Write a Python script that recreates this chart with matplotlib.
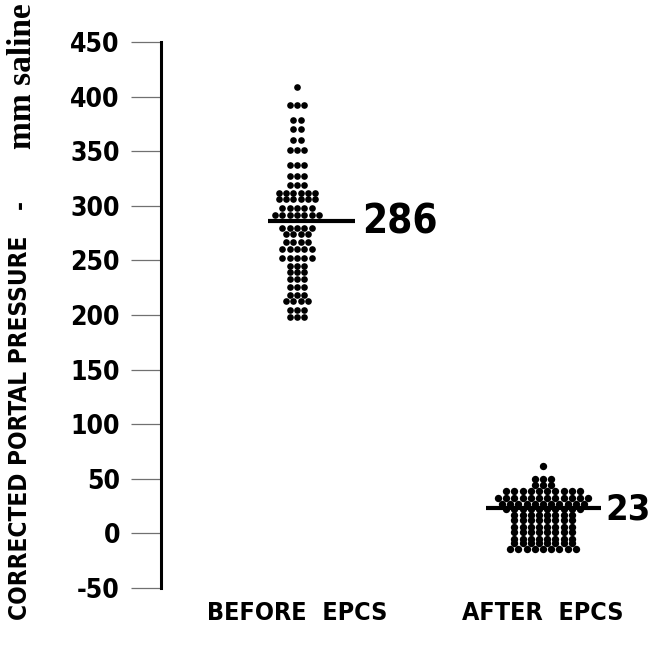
import matplotlib
matplotlib.use('Agg')
import matplotlib.pyplot as plt
import numpy as np

# pressure rows: (value, number of patients at that value)
before_vals = [409, 392, 379, 370, 360, 351, 337, 327, 319, 312, 306, 298, 292,
               280, 274, 267, 260, 252, 245, 239, 233, 226, 218, 213, 205, 198]
before_counts = [1, 3, 2, 2, 2, 3, 3, 3, 3, 6, 6, 5, 7,
                 5, 4, 4, 5, 5, 3, 3, 3, 3, 3, 4, 3, 3]
after_vals = [62, 50, 44, 39, 32, 27, 22, 17, 12, 6, 1, -5, -9, -14]
after_counts = [1, 3, 3, 10, 12, 11, 10, 8, 8, 8, 8, 8, 8, 9]

before_mean = 286
after_mean = 23
group_labels = ['BEFORE  EPCS', 'AFTER  EPCS']
yticks = list(range(-50, 451, 50))

cond = dict(family='DejaVu Sans', fontstretch='condensed', fontweight='bold')


def spread(vals, counts, center, step):
    xs, ys = [], []
    for v, n in zip(vals, counts):
        for i in range(n):
            xs.append(center + (i - (n - 1) / 2) * step)
            ys.append(v)
    return xs, ys


fig = plt.figure(figsize=(6.51, 6.54), dpi=100)
ax = fig.add_axes([161 / 651, 66 / 654, 490 / 651, 546 / 654])
ax.set_xlim(0, 490)
ax.set_ylim(-50, 450)

bx, by = spread(before_vals, before_counts, 136, 7.3)
ax.scatter(bx, by, s=23, color='black', linewidths=0, zorder=3)
axx, ayy = spread(after_vals, after_counts, 382, 8.2)
ax.scatter(axx, ayy, s=28, color='black', linewidths=0, zorder=3)

ax.plot([107, 194], [before_mean, before_mean], color='black', lw=3, solid_capstyle='butt', zorder=4)
ax.plot([325, 440], [after_mean, after_mean], color='black', lw=3, solid_capstyle='butt', zorder=4)
ax.text(201, before_mean - 1, str(before_mean), fontsize=29, va='center', ha='left', **cond)
ax.text(444, after_mean - 1, str(after_mean), fontsize=26, va='center', ha='left',
        clip_on=False, **cond)

for s in ['top', 'right', 'bottom']:
    ax.spines[s].set_visible(False)
ax.spines['left'].set_linewidth(2.2)

ax.set_yticks(yticks)
ax.set_yticklabels([str(t) for t in yticks], fontsize=19, **cond)
ax.tick_params(axis='y', length=21.6, width=0.9, color='#707070', pad=8)
ax.set_xticks([136, 382])
ax.set_xticklabels(group_labels, fontsize=18, **cond)
ax.tick_params(axis='x', length=0, pad=9)

fig.text(0.030, 0.052, 'CORRECTED PORTAL PRESSURE', rotation=90, ha='center', va='bottom',
         fontsize=17.5, **cond)
fig.text(0.030, 0.687, '-', rotation=90, ha='center', va='center', fontsize=17.5, **cond)
fig.text(0.034, 0.995, 'mm saline', rotation=90, ha='center', va='top',
         fontsize=24, fontweight='bold', family=['Liberation Serif', 'DejaVu Serif'])

fig.savefig('out.png', dpi=100)
